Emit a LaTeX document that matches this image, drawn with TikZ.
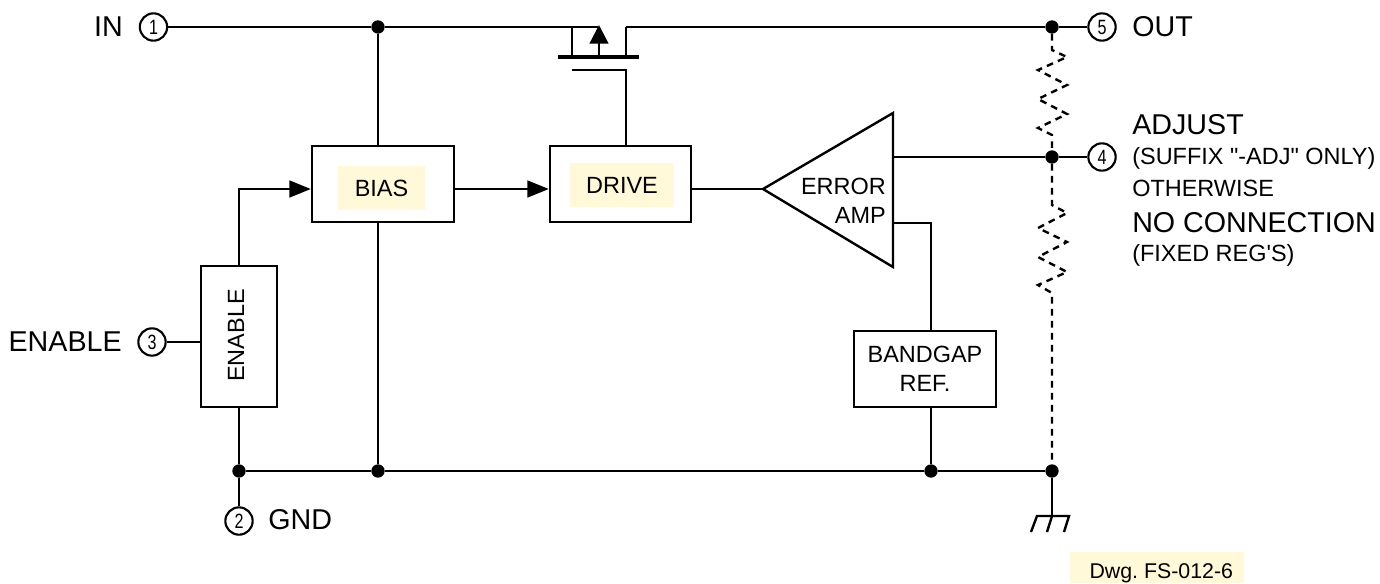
\documentclass[tikz,border=0pt]{standalone}
\usepackage{fontspec}
\setmainfont{Liberation Sans}
\newfontfamily\straight{Liberation Sans}
\usetikzlibrary{arrows.meta}
\definecolor{tint}{HTML}{FFF9D9}
\newcommand{\pinnum}[1]{\scalebox{.78}[1]{#1}}
\tikzset{
  wire/.style={line width=1.8pt, line join=miter},
  sense/.style={wire, dash pattern=on 5pt off 4pt},
  flow/.style={wire, -{Triangle[length=16pt,width=12.5pt]}},
  block/.style={draw, line width=1.8pt, fill=none, inner sep=0pt},
  pin/.style={draw, circle, line width=1.6pt, minimum size=20.5pt, inner sep=0pt, font=\fontsize{15.5}{15.5}\selectfont},
  dot/.style={circle, fill=black, minimum size=10pt, inner sep=0pt},
  big/.style={inner sep=0pt, font=\fontsize{21.5}{21.5}\selectfont},
  small/.style={inner sep=0pt, font=\fontsize{17.6}{22}\selectfont},
  patch/.style={fill=tint, inner sep=0pt, font=\fontsize{17.6}{22}\selectfont}
}
\begin{document}
\begin{tikzpicture}[x=.75pt, y=-.75pt]
\useasboundingbox (0,0) rectangle (1380,583);

\node [patch, minimum width=65pt, minimum height=33pt] (biastint) at (381.5,188) {BIAS};
\node [patch, minimum width=78pt, minimum height=33pt] (drivetint) at (622,185) {DRIVE};
\node [patch, font=\fontsize{16}{16}\selectfont, minimum width=130.5pt, text height=19.5pt, text depth=3.75pt, anchor=north west] (dwg) at (1070,552) {\hspace*{6pt}Dwg.\ FS-012-6};

\node [block, minimum width=106.5pt, minimum height=57pt] (bias) at (383,184) {};
\node [block, minimum width=105.75pt, minimum height=57pt] (drive) at (620.5,184) {};
\node [block, minimum width=57pt, minimum height=106pt] (enable) at (239,336.5) {};
\node [small, rotate=90] at (236,335.5) (enabletxt) {ENABLE};
\node [block, minimum width=106.5pt, minimum height=57pt, align=center, small] (bandgap) at (925,369) {BANDGAP\\REF.};

\coordinate (tip) at (763,189);
\coordinate (amptop) at (893,113);
\coordinate (ampbot) at (893,267);
\coordinate (ampout) at (893,157);
\coordinate (ampref) at (893,223);
\coordinate (sig) at (0,189);
\draw [wire] (tip)--(amptop)--(ampbot)--cycle;
\node [small, align=right, anchor=east] (amptxt) at (886,201) {ERROR\\AMP};

\node [pin] (pinin) at (153.5,27) {\pinnum{1}};
\node [pin] (pingnd) at (239,521) {\pinnum{2}};
\node [pin] (pinen) at (152,342) {\pinnum{3}};
\node [pin] (pinadj) at (1102,157) {\pinnum{4}};
\node [pin] (pinout) at (1102,27) {\pinnum{5}};

\node [big, anchor=east] (intxt) at (123,27) {IN};
\node [big, anchor=west] (gndtxt) at (268,520) {GND};
\node [big, anchor=east] (entxt) at (122,342) {ENABLE};
\node [big, anchor=west] (outtxt) at (1132,27) {OUT};
\node [big, anchor=west] (adjtxt) at (1132,125) {ADJUST};
\node [small, anchor=west] (suffix) at (1132,158) {\straight (SUFFIX "-ADJ" ONLY)};
\node [small, anchor=west] (other) at (1132,188) {OTHERWISE};
\node [big, anchor=west] (nctxt) at (1132,223) {NO CONNECTION};
\node [small, anchor=west] (fixed) at (1132,255) {\straight (FIXED REG'S)};

\foreach \i/\x/\y in {intop/378/27, outtop/1052/27, adj/1052/157, engnd/239/471, biasgnd/378/471, refgnd/931/471, rgnd/1052/471}
    \node [dot] (\i) at (\x,\y) {};

% supply and ground rails
\coordinate (drainl) at (598,27);
\coordinate (sourcel) at (572,27);
\coordinate (sourcer) at (626,27);
\coordinate (gatel) at (572,70);
\coordinate (gater) at (626,70);
\draw [wire] (pinin)--(intop)--(drainl);
\draw [wire] (sourcer)--(outtop)--(pinout);
\draw [wire] (pingnd)--(engnd)--(biasgnd)--(refgnd)--(rgnd);
\draw [wire] (intop)--(intop|-bias.north);
\draw [wire] (biasgnd|-bias.south)--(biasgnd);
\draw [wire] (enable.south)--(engnd);
\draw [wire] (pinen)--(pinen-|enable.west);

% pass transistor
\draw [line width=3.4pt] (558,57)--(639,57);
\draw [wire] (sourcel)--(572,57);
\draw [wire] (sourcer)--(626,57);
\draw [wire, -{Triangle[length=14pt,width=14pt]}] (599,57)--(599,25);
\draw [wire] (gatel)--(gater)--(gater|-drive.north);

% signal path
\draw [flow] (enable.north)|-(bias.west|-sig);
\draw [flow] (bias.east|-sig)--(drive.west|-sig);
\draw [wire] (drive.east|-sig)--(tip);
\draw [wire] (ampout)--(adj)--(pinadj);
\draw [wire] (ampref)-|(refgnd|-bandgap.north);
\draw [wire] (refgnd|-bandgap.south)--(refgnd);

% divider
\draw [sense] (outtop)--(1052,50)--(1067,57)--(1038,70)--(1067,85)--(1038,99)--(1067,114)--(1038,128)--(1052,135)--(adj);
\draw [sense] (adj)--(1052,205)--(1067,213)--(1038,228)--(1067,242)--(1038,257)--(1067,272)--(1038,285)--(1052,293)--(rgnd);

% ground
\coordinate (earth) at (1052,516);
\draw [wire] (rgnd)--(earth);
\draw [wire] (1031,532)--(1037,516)--(1069,516)--(1064,532);
\draw [wire] (earth)--(1047,532);
\end{tikzpicture}
\end{document}
